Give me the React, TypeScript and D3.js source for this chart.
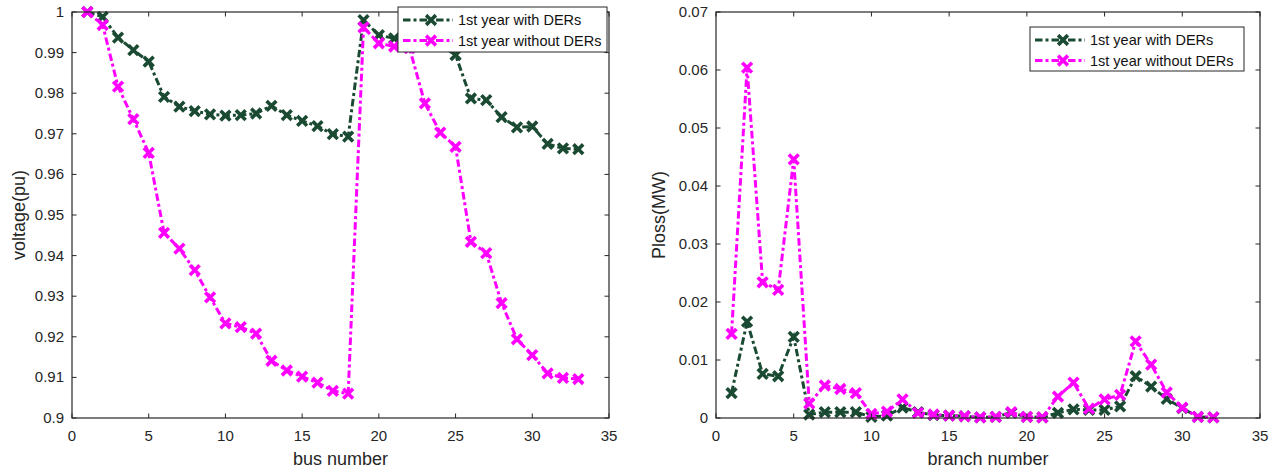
import React from "react";
import * as d3 from "d3";

const busNumbers = d3.range(1, 34);
const voltageWithDER = [
  1.0, 0.9988, 0.9937, 0.9906, 0.9878, 0.9791, 0.9767, 0.9756, 0.9748, 0.9745,
  0.9746, 0.975, 0.9769, 0.9746, 0.9732, 0.9719, 0.9699, 0.9693, 0.998, 0.9943,
  0.9935, 0.9932, 0.9925, 0.9918, 0.9894, 0.9787, 0.9783, 0.9741, 0.9716, 0.9718,
  0.9675, 0.9664, 0.9662,
];
const voltageWithoutDER = [
  1.0, 0.9968, 0.9816, 0.9736, 0.9653, 0.9456, 0.9417, 0.9364, 0.9297, 0.9233,
  0.9224, 0.9208, 0.9141, 0.9117, 0.9102, 0.9087, 0.9067, 0.906, 0.9962, 0.9923,
  0.9915, 0.9911, 0.9775, 0.9703, 0.9668, 0.9434, 0.9406, 0.9283, 0.9194, 0.9155,
  0.911, 0.9099, 0.9096,
];
const branchNumbers = d3.range(1, 33);
const plossWithDER = [
  0.0043, 0.0166, 0.0076, 0.0072, 0.014, 0.0006, 0.001, 0.001, 0.001, 0.0002,
  0.0004, 0.0018, 0.001, 0.0005, 0.0004, 0.0003, 0.0001, 0.0002, 0.0009, 0.0002,
  0.0001, 0.0009, 0.0015, 0.0014, 0.0014, 0.002, 0.0072, 0.0054, 0.0033, 0.0017,
  0.0002, 0.0001,
];
const plossWithoutDER = [
  0.0145, 0.0604, 0.0234, 0.0221, 0.0446, 0.0025, 0.0056, 0.005, 0.0043, 0.0007,
  0.0011, 0.0032, 0.0009, 0.0006, 0.0004, 0.0003, 0.0001, 0.0002, 0.001, 0.0002,
  0.0001, 0.0037, 0.0061, 0.0016, 0.0032, 0.004, 0.0132, 0.0092, 0.0044, 0.0018,
  0.0002, 0.0001,
];
const xTicks = [0, 5, 10, 15, 20, 25, 30, 35];
const voltageTicks = [0.9, 0.91, 0.92, 0.93, 0.94, 0.95, 0.96, 0.97, 0.98, 0.99, 1];
const plossTicks = [0, 0.01, 0.02, 0.03, 0.04, 0.05, 0.06, 0.07];
const seriesNames = ["1st year with DERs", "1st year without DERs"];
const seriesColors = ["#1b4a33", "#ff00ff"];

const AXIS = "#262626";
const FONT = "'Liberation Sans', Arial, sans-serif";
const DASH = "7.5,3,3,3";

function Marker({ x, y, color }: { x: number; y: number; color: string }) {
  const s = 3.6;
  return (
    <path
      d={`M${x - s},${y - s}L${x + s},${y + s}M${x - s},${y + s}L${x + s},${y - s}`}
      stroke={color}
      strokeWidth={3.6}
      strokeLinecap="square"
      fill="none"
    />
  );
}

type PanelProps = {
  left: number;
  right: number;
  top: number;
  bottom: number;
  yDomain: [number, number];
  yTicks: number[];
  yFmt: (v: number) => string;
  xs: number[];
  series: number[][];
  xLabel: string;
  yLabel: string;
  yLabelX: number;
  legend: { x: number; y: number; w: number; h: number };
};

function Panel(p: PanelProps) {
  const x = d3.scaleLinear().domain([0, 35]).range([p.left, p.right]);
  const y = d3.scaleLinear().domain(p.yDomain).range([p.bottom, p.top]);
  const line = d3
    .line<number>()
    .x((_, i) => x(p.xs[i]))
    .y((d) => y(d));
  const tl = 4.5;
  return (
    <g fontFamily={FONT} fill={AXIS}>
      {p.series.map((s, k) => (
        <g key={k}>
          <path
            d={line(s) || ""}
            fill="none"
            stroke={seriesColors[k]}
            strokeWidth={3}
            strokeDasharray={DASH}
          />
          {s.map((v, i) => (
            <Marker key={i} x={x(p.xs[i])} y={y(v)} color={seriesColors[k]} />
          ))}
        </g>
      ))}
      <rect
        x={p.left}
        y={p.top}
        width={p.right - p.left}
        height={p.bottom - p.top}
        fill="none"
        stroke={AXIS}
        strokeWidth={1.2}
      />
      {xTicks.map((t) => (
        <g key={"x" + t}>
          <line x1={x(t)} x2={x(t)} y1={p.bottom} y2={p.bottom - tl} stroke={AXIS} />
          <line x1={x(t)} x2={x(t)} y1={p.top} y2={p.top + tl} stroke={AXIS} />
          <text x={x(t)} y={p.bottom + 23} textAnchor="middle" fontSize={15} fill={AXIS}>
            {t}
          </text>
        </g>
      ))}
      {p.yTicks.map((t) => (
        <g key={"y" + t}>
          <line x1={p.left} x2={p.left + tl} y1={y(t)} y2={y(t)} stroke={AXIS} />
          <line x1={p.right} x2={p.right - tl} y1={y(t)} y2={y(t)} stroke={AXIS} />
          <text x={p.left - 8} y={y(t) + 5} textAnchor="end" fontSize={15} fill={AXIS}>
            {p.yFmt(t)}
          </text>
        </g>
      ))}
      <text
        x={(p.left + p.right) / 2}
        y={p.bottom + 47}
        textAnchor="middle"
        fontSize={18}
        fill={AXIS}
      >
        {p.xLabel}
      </text>
      <text
        transform={`translate(${p.yLabelX},${(p.top + p.bottom) / 2}) rotate(-90)`}
        textAnchor="middle"
        fontSize={18}
        fill={AXIS}
      >
        {p.yLabel}
      </text>
      <g>
        <rect
          x={p.legend.x}
          y={p.legend.y}
          width={p.legend.w}
          height={p.legend.h}
          fill="white"
          stroke={AXIS}
          strokeWidth={1}
        />
        {seriesNames.map((n, k) => {
          const cy = p.legend.y + 13 + k * 20.5;
          const lx = p.legend.x + 5;
          return (
            <g key={n}>
              <line
                x1={lx}
                x2={lx + 50}
                y1={cy}
                y2={cy}
                stroke={seriesColors[k]}
                strokeWidth={3}
                strokeDasharray={DASH}
              />
              <Marker x={lx + 28} y={cy} color={seriesColors[k]} />
              <text x={lx + 55} y={cy + 5} fontSize={14.5} fill="#111">
                {n}
              </text>
            </g>
          );
        })}
      </g>
    </g>
  );
}

export default function App() {
  return (
    <svg
      width={1279}
      height={472}
      style={{ position: "absolute", left: 0, top: 0, background: "white" }}
    >
      <rect width={1279} height={472} fill="white" />
      <Panel
        left={72}
        right={609}
        top={12}
        bottom={418}
        yDomain={[0.9, 1]}
        yTicks={voltageTicks}
        yFmt={(v) => (v === 1 ? "1" : d3.format(".2f")(v).replace(/0$/, ""))}
        xs={busNumbers}
        series={[voltageWithDER, voltageWithoutDER]}
        xLabel="bus number"
        yLabel="voltage(pu)"
        yLabelX={25}
        legend={{ x: 398, y: 7, w: 209, h: 45 }}
      />
      <Panel
        left={716}
        right={1260}
        top={12}
        bottom={418}
        yDomain={[0, 0.07]}
        yTicks={plossTicks}
        yFmt={(v) => (v === 0 ? "0" : d3.format(".2f")(v))}
        xs={branchNumbers}
        series={[plossWithDER, plossWithoutDER]}
        xLabel="branch number"
        yLabel="Ploss(MW)"
        yLabelX={665}
        legend={{ x: 1030, y: 27, w: 214, h: 44 }}
      />
    </svg>
  );
}
